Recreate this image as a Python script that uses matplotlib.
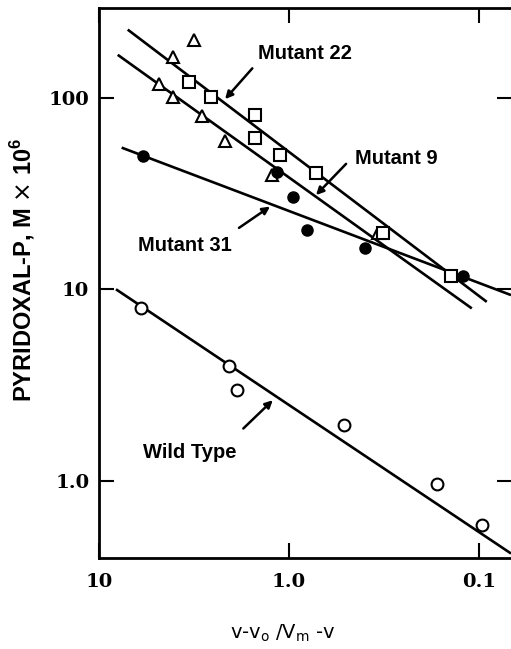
import numpy as np
import matplotlib
matplotlib.use("Agg")
import matplotlib.pyplot as plt

# values (x axis runs 10 -> 0.1)
tri_x = [3.15, 4.06, 4.81, 4.06, 2.88, 2.17, 1.233, 0.339]
tri_y = [200, 162, 118, 101, 80, 59, 39.5, 19.6]
sq_x = [3.35, 2.58, 1.51, 1.51, 1.115, 0.721, 0.319, 0.141]
sq_y = [120, 100.5, 81, 61.4, 50.2, 40.3, 19.7, 11.7]
dot_x = [5.89, 1.152, 0.949, 0.807, 0.398, 0.122]
dot_y = [49.8, 41.1, 30.2, 20.4, 16.4, 11.7]
wt_x = [6.01, 2.06, 1.885, 0.512, 0.167, 0.0968]
wt_y = [7.95, 3.97, 2.98, 1.95, 0.961, 0.587]

# fitted lines, (x0, x1), (y0, y1)
fit_22 = ([7.06, 0.0911], [226, 8.6])
fit_9 = ([7.97, 0.1092], [167, 7.95])
fit_31 = ([7.60, 0.0679], [54.8, 9.33])
fit_wt = ([8.14, 0.0679], [10.0, 0.419])

# label text, text anchor (left, middle), arrow tail, arrow head
labels = ["Mutant 22", "Mutant 9", "Mutant 31", "Wild Type"]
label_xy = [(1.46, 170), (0.45, 48.3), (6.26, 16.9), (5.89, 1.417)]
arrow_tail = [(1.56, 142), (0.501, 45.1), (1.834, 20.9), (1.74, 1.88)]
arrow_head = [(2.17, 98.1), (0.721, 31.0), (1.259, 27.0), (1.218, 2.64)]

xticks = [10, 1.0, 0.1]
xticklabels = ["10", "1.0", "0.1"]
yticks = [100, 10, 1.0]
yticklabels = ["100", "10", "1.0"]

W, H = 511, 649
fig = plt.figure(figsize=(W / 100, H / 100), dpi=100)
ax = fig.add_axes([99 / W, (H - 558) / H, 413 / W, 550 / H])
ax.set_xscale("log"); ax.set_yscale("log")
ax.set_xlim(10, 0.0671); ax.set_ylim(0.397, 293)

lw = 1.9
for (xs, ys) in (fit_22, fit_9, fit_31, fit_wt):
    ax.plot(xs, ys, "-", color="black", lw=lw, solid_capstyle="butt")

ms = 9
ax.plot(tri_x, tri_y, "^", ms=ms, mfc="white", mec="black", mew=1.5, ls="none")
ax.plot(sq_x, sq_y, "s", ms=ms - 0.5, mfc="white", mec="black", mew=1.5, ls="none")
ax.plot(dot_x, dot_y, "o", ms=8, mfc="black", mec="black", ls="none")
ax.plot(wt_x, wt_y, "o", ms=8.5, mfc="white", mec="black", mew=1.5, ls="none")

for txt, pos, tail, head in zip(labels, label_xy, arrow_tail, arrow_head):
    ax.text(pos[0], pos[1], txt, ha="left", va="center", fontsize=14.5,
            fontweight="bold", family="Liberation Sans")
    ax.annotate("", xy=head, xytext=tail,
                arrowprops=dict(arrowstyle="-|>", lw=1.8, color="black",
                                mutation_scale=11, shrinkA=0, shrinkB=0))

ax.minorticks_off()
ax.set_xticks(xticks); ax.set_xticklabels(xticklabels)
ax.set_yticks(yticks); ax.set_yticklabels(yticklabels)
ax.tick_params(which="both", direction="in", length=11, width=1.5,
               top=True, right=True, labelsize=14)
ax.tick_params(axis="x", pad=11)
ax.tick_params(axis="y", pad=7)
for lab in ax.get_xticklabels() + ax.get_yticklabels():
    lab.set_family("DejaVu Serif"); lab.set_fontweight("bold")
for sp in ax.spines.values():
    sp.set_linewidth(2)

fig.text(23 / W, 1 - 270 / H, r"PYRIDOXAL-P, M $\times$ 10$^{\mathregular{6}}$",
         rotation=90, ha="center", va="center", fontsize=17, fontweight="bold",
         family="Liberation Sans")
fig.text(283 / W, 1 - 633 / H, r"v-v$_{\mathregular{o}}$ /V$_{\mathregular{m}}$ -v",
         ha="center", va="center", fontsize=14, family="DejaVu Sans")

fig.savefig("out.png", dpi=100)
